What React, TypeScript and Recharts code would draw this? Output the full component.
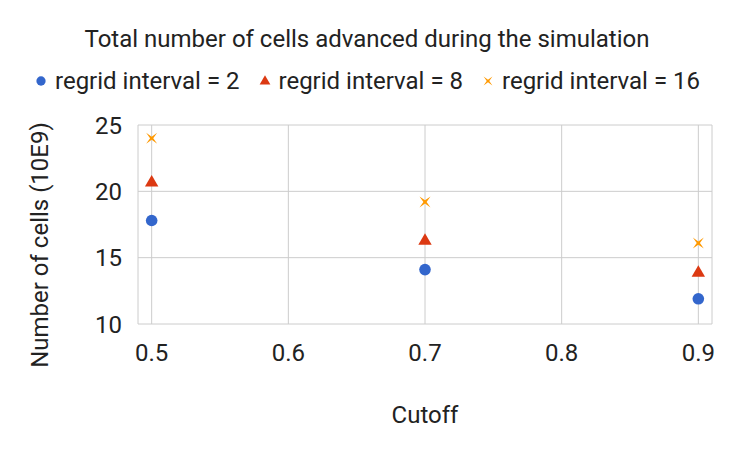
import { CartesianGrid, Scatter, ScatterChart, XAxis, YAxis } from "recharts";

const FONT = "Roboto, sans-serif";
const GRID = "#cccccc";
const TEXT = "#222222";

const CUTOFFS = [0.5, 0.7, 0.9];
const REGRID_2 = [17.8, 14.1, 11.9];
const REGRID_8 = [20.7, 16.3, 13.9];
const REGRID_16 = [24.0, 19.2, 16.1];
const X_TICKS = [0.5, 0.6, 0.7, 0.8, 0.9];
const Y_TICKS = [10, 15, 20, 25];

const SERIES = [
  { name: "regrid interval = 2", values: REGRID_2, color: "#3366cc", kind: "circle" },
  { name: "regrid interval = 8", values: REGRID_8, color: "#dc3912", kind: "triangle" },
  { name: "regrid interval = 16", values: REGRID_16, color: "#ff9900", kind: "x" },
];

// 마커 모양: 원 / 삼각형 / X자
function Marker({ kind, cx, cy, color, s = 1 }: { kind: string; cx: number; cy: number; color: string; s?: number }) {
  if (kind === "circle") return <circle cx={cx} cy={cy} r={5.8 * s} fill={color} />;
  if (kind === "triangle") {
    const h = 11.5 * s;
    const w = 6.7 * s;
    return <path d={`M${cx},${cy - h * 0.62} L${cx + w},${cy + h * 0.38} L${cx - w},${cy + h * 0.38} Z`} fill={color} />;
  }
  const a = 5.5 * s;
  const t = 1.6 * s;
  return (
    <path
      d={`M${cx - a},${cy - a} L${cx},${cy - t} L${cx + a},${cy - a} L${cx + t},${cy} L${cx + a},${cy + a} L${cx},${cy + t} L${cx - a},${cy + a} L${cx - t},${cy} Z`}
      fill={color}
    />
  );
}

export default function App() {
  return (
    <div style={{ position: "absolute", left: 0, top: 0, width: 734, height: 453, background: "#fff", fontFamily: FONT }}>
      <div style={{ position: "absolute", top: 25, left: 0, width: 734, textAlign: "center", fontSize: 24, color: TEXT }}>
        Total number of cells advanced during the simulation
      </div>
      <div style={{ position: "absolute", top: 67, left: 0, width: 734, display: "flex", justifyContent: "center", fontSize: 24, color: TEXT }}>
        {SERIES.map((s) => (
          <div key={s.name} style={{ display: "flex", alignItems: "center", margin: "0 9px" }}>
            <svg width={14} height={14} style={{ marginRight: 7 }}>
              <Marker kind={s.kind} cx={7} cy={7} color={s.color} s={0.8} />
            </svg>
            <span>{s.name}</span>
          </div>
        ))}
      </div>
      <ScatterChart width={734} height={453} margin={{ top: 125, right: 22, bottom: 0, left: 0 }}>
        <CartesianGrid stroke={GRID} />
        <XAxis
          type="number"
          dataKey="x"
          domain={[0.49, 0.91]}
          ticks={X_TICKS}
          tickFormatter={(v: number) => v.toFixed(1)}
          tick={{ fontSize: 24, fill: TEXT, fontFamily: FONT }}
          tickLine={false}
          axisLine={false}
          height={129}
          tickMargin={14}
          label={{ value: "Cutoff", position: "insideBottom", offset: 30, fontSize: 24, fill: TEXT, fontFamily: FONT }}
        />
        <YAxis
          type="number"
          dataKey="y"
          domain={[10, 25]}
          ticks={Y_TICKS}
          tick={{ fontSize: 24, fill: TEXT, fontFamily: FONT }}
          tickLine={false}
          axisLine={false}
          width={138}
          tickMargin={10}
          label={{
            content: () => (
              <text x={48} y={245} transform="rotate(-90, 48, 245)" textAnchor="middle" fontSize={24} fill={TEXT} fontFamily={FONT}>
                Number of cells (10E9)
              </text>
            ),
          }}
        />
        {SERIES.map((s) => (
          <Scatter
            key={s.name}
            name={s.name}
            data={CUTOFFS.map((x, i) => ({ x, y: s.values[i] }))}
            isAnimationActive={false}
            shape={(p: any) => <Marker kind={s.kind} cx={p.cx} cy={p.cy} color={s.color} />}
          />
        ))}
      </ScatterChart>
    </div>
  );
}
